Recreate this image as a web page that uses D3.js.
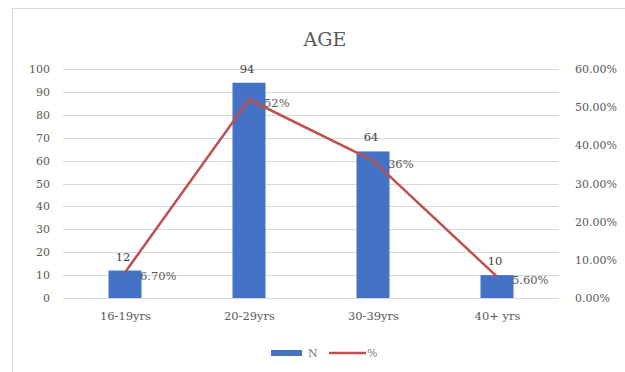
<!DOCTYPE html>
<html>
<head>
<meta charset="utf-8">
<script src="https://cdn.jsdelivr.net/npm/d3@7"></script>
<style>
  html, body { margin: 0; padding: 0; background: #fff; }
  svg { display: block; }
  text { font-family: "DejaVu Serif", "Liberation Serif", serif; fill: #595959; }
</style>
</head>
<body>
<svg id="chart" width="625" height="372"></svg>
<script>
// Age groups, respondent counts and share of respondents
const categories = ["16-19yrs", "20-29yrs", "30-39yrs", "40+ yrs"];
const counts = [12, 94, 64, 10];
const percents = [6.70, 52, 36, 5.60];
const percentLabels = ["6.70%", "52%", "36%", "5.60%"];
const leftTicks = [0, 10, 20, 30, 40, 50, 60, 70, 80, 90, 100];
const rightTicks = [0, 10, 20, 30, 40, 50, 60];

const svg = d3.select("#chart");
const W = 625, H = 372;
const plot = { left: 63, right: 559, top: 69, bottom: 298 };
const barWidth = 33;
const blue = "#4472c4", red = "#c0504d", grid = "#d9d9d9";
const serif = "'DejaVu Serif', 'Liberation Serif', serif";

// chart area frame
svg.append("rect")
  .attr("x", 12.5).attr("y", 8.5)
  .attr("width", W - 6).attr("height", H)
  .attr("fill", "#fff").attr("stroke", grid);

const x = d3.scalePoint().domain(categories).range([plot.left, plot.right]).padding(0.5);
const yL = d3.scaleLinear().domain([0, 100]).range([plot.bottom, plot.top]);
const yR = d3.scaleLinear().domain([0, 60]).range([plot.bottom, plot.top]);

// title
svg.append("text")
  .attr("x", 325).attr("y", 46)
  .attr("text-anchor", "middle")
  .style("font-size", "19px")
  .style("fill", "#595959")
  .text("AGE");

// gridlines
svg.append("g")
  .selectAll("line")
  .data(leftTicks)
  .join("line")
  .attr("x1", plot.left).attr("x2", plot.right)
  .attr("y1", d => Math.round(yL(d)) + 0.5)
  .attr("y2", d => Math.round(yL(d)) + 0.5)
  .attr("stroke", grid).attr("stroke-width", 1);

// left axis (counts)
const axL = svg.append("g")
  .attr("transform", `translate(${plot.left},0)`)
  .call(d3.axisLeft(yL).tickValues(leftTicks).tickSize(0).tickPadding(13).tickFormat(d3.format("d")));
axL.select(".domain").remove();
axL.selectAll("text").style("font-size", "11px").style("font-family", serif).attr("fill", "#808080");

// right axis (percent)
const axR = svg.append("g")
  .attr("transform", `translate(${plot.right},0)`)
  .call(d3.axisRight(yR).tickValues(rightTicks).tickSize(0).tickPadding(16).tickFormat(d => d.toFixed(2) + "%"));
axR.select(".domain").remove();
axR.selectAll("text").style("font-size", "11px").style("font-family", serif).attr("fill", "#808080");

// bottom axis labels
const axB = svg.append("g")
  .attr("transform", `translate(0,${plot.bottom})`)
  .call(d3.axisBottom(x).tickSize(0).tickPadding(14));
axB.select(".domain").remove();
axB.selectAll("text").style("font-size", "11.5px").style("font-family", serif).attr("fill", "#808080");

// bars
svg.append("g")
  .selectAll("rect")
  .data(counts)
  .join("rect")
  .attr("x", (d, i) => x(categories[i]) - barWidth / 2)
  .attr("y", d => yL(d))
  .attr("width", barWidth)
  .attr("height", d => yL(0) - yL(d))
  .attr("fill", blue);

// percent line
const line = d3.line()
  .x((d, i) => x(categories[i]))
  .y(d => yR(d));
svg.append("path")
  .datum(percents)
  .attr("d", line)
  .attr("fill", "none")
  .attr("stroke", red)
  .attr("stroke-width", 2.5)
  .attr("stroke-linejoin", "round");

// count labels above bars
svg.append("g")
  .selectAll("text")
  .data(counts)
  .join("text")
  .attr("x", (d, i) => x(categories[i]) - 2)
  .attr("y", d => yL(d) - 10)
  .attr("text-anchor", "middle")
  .style("font-size", "11.5px")
  .style("fill", "#404040")
  .text(d => d);

// percent labels right of line points
svg.append("g")
  .selectAll("text")
  .data(percents)
  .join("text")
  .attr("x", (d, i) => x(categories[i]) + 15)
  .attr("y", d => yR(d) + 7.5)
  .attr("text-anchor", "start")
  .style("font-size", "11.5px")
  .style("fill", "#595959")
  .text((d, i) => percentLabels[i]);

// legend
const lg = svg.append("g").attr("transform", "translate(0,353)");
lg.append("rect").attr("x", 271).attr("y", -3).attr("width", 31).attr("height", 6).attr("fill", blue);
lg.append("text").attr("x", 308).attr("y", 4).style("font-size", "11px").style("fill", "#808080").text("N");
lg.append("line").attr("x1", 329).attr("x2", 366).attr("y1", 0).attr("y2", 0).attr("stroke", red).attr("stroke-width", 2.5);
lg.append("text").attr("x", 367).attr("y", 4).style("font-size", "11px").style("fill", "#808080").text("%");
</script>
</body>
</html>
